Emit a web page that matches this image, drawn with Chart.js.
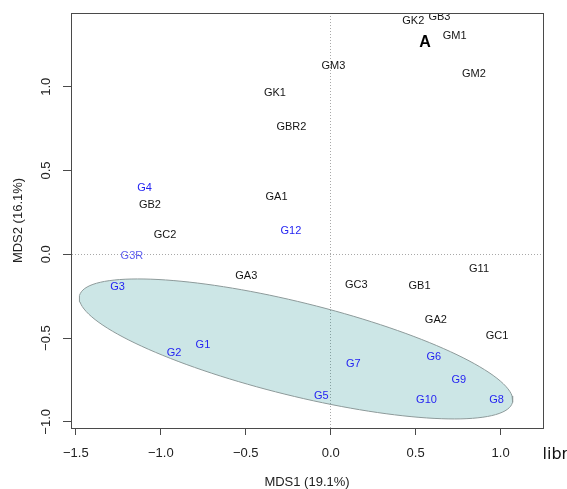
<!DOCTYPE html>
<html><head><meta charset="utf-8">
<script src="https://cdn.jsdelivr.net/npm/chart.js@4/dist/chart.umd.min.js"></script>
<style>html,body{margin:0;padding:0;background:#fff;overflow:hidden}#wrap{width:567px;height:489px}</style>
</head><body><div id="wrap"><canvas id="c" width="567" height="489"></canvas></div>
<script>
// ---- data ----
const blackLabels = ['GK2','GB3','GM1','GM3','GM2','GK1','GBR2','GA1','GB2','GC2','GA3','GC3','GB1','G11','GA2','GC1'];
const blackX = [0.486, 0.640, 0.730, 0.016, 0.843, -0.328, -0.231, -0.319, -1.064, -0.975, -0.497, 0.151, 0.523, 0.873, 0.619, 0.979];
const blackY = [1.394, 1.419, 1.303, 1.127, 1.078, 0.966, 0.763, 0.345, 0.294, 0.118, -0.127, -0.185, -0.191, -0.088, -0.395, -0.490];

const blueLabels = ['G4','G12','G3R','G3','G1','G2','G7','G6','G9','G5','G10','G8'];
const blueX = [-1.096, -0.234, -1.170, -1.255, -0.752, -0.922, 0.133, 0.607, 0.754, -0.055, 0.564, 0.976];
const blueY = [0.396, 0.142, -0.010, -0.198, -0.544, -0.589, -0.655, -0.611, -0.749, -0.843, -0.872, -0.872];

const panelLabels = ['A'];
const panelX = [0.555];
const panelY = [1.261];

const xTicks = [-1.5, -1.0, -0.5, 0.0, 0.5, 1.0];
const xTickLabels = ['\u22121.5', '\u22121.0', '\u22120.5', '0.0', '0.5', '1.0'];
const yTicks = [-1.0, -0.5, 0.0, 0.5, 1.0];
const yTickLabels = ['\u22121.0', '\u22120.5', '0.0', '0.5', '1.0'];
const xTitle = 'MDS1 (19.1%)';
const yTitle = 'MDS2 (16.1%)';
const strayText = 'libr';

// ellipse (data units): centre and two conjugate semi-axis vectors
const ellipseCenter = [-0.204, -0.565];
const ellipseAxisA = [1.274, -0.319];
const ellipseAxisB = [-0.0657, -0.270];

// ---- build ----
const toPts = (xs, ys) => xs.map((x, i) => ({x: x, y: ys[i]}));
const ellipsePts = [];
const N = 144;
for (let k = 0; k <= N; k++) {
  const t = 2 * Math.PI * k / N;
  ellipsePts.push({
    x: ellipseCenter[0] + Math.cos(t) * ellipseAxisA[0] + Math.sin(t) * ellipseAxisB[0],
    y: ellipseCenter[1] + Math.cos(t) * ellipseAxisA[1] + Math.sin(t) * ellipseAxisB[1]
  });
}

const FONT = '"Liberation Sans", Arial, Helvetica, sans-serif';
const BLUE = '#2424f2';

const labelPlugin = {
  id: 'pointLabelText',
  afterDatasetsDraw(chart) {
    const {ctx, chartArea: a} = chart;
    ctx.save();
    ctx.beginPath();
    ctx.rect(a.left, a.top, a.right - a.left, a.bottom - a.top);
    ctx.clip();
    chart.data.datasets.forEach((ds, di) => {
      if (!ds.pointLabels) return;
      const meta = chart.getDatasetMeta(di);
      ctx.font = ds.labelFont;
      ctx.textAlign = 'center';
      ctx.textBaseline = 'middle';
      meta.data.forEach((el, i) => {
        ctx.fillStyle = typeof ds.labelColor === 'function' ? ds.labelColor(ds.pointLabels[i]) : ds.labelColor;
        ctx.fillText(ds.pointLabels[i], el.x, el.y);
      });
    });
    ctx.restore();
  },
  afterDraw(chart) {
    const {ctx, chartArea: a} = chart;
    ctx.save();
    ctx.strokeStyle = '#4a4a4a';
    ctx.lineWidth = 1;
    ctx.strokeRect(Math.round(a.left) + 0.5, Math.round(a.top) + 0.5,
                   Math.round(a.right) - Math.round(a.left), Math.round(a.bottom) - Math.round(a.top));
    ctx.fillStyle = '#111';
    ctx.font = '16px "DejaVu Sans", sans-serif';
    ctx.textAlign = 'left';
    ctx.textBaseline = 'alphabetic';
    ctx.fillText(strayText, a.right - 0.5, 459);
    ctx.restore();
  }
};

const zeroGrid = c => (c.tick && c.tick.value === 0) ? '#a8a8a8' : 'rgba(0,0,0,0)';

new Chart(document.getElementById('c'), {
  type: 'scatter',
  data: {
    datasets: [
      {
        label: 'ellipse', data: ellipsePts, showLine: true, fill: 'shape',
        backgroundColor: 'rgba(0,128,128,0.2)', borderColor: '#8d9a9a', borderWidth: 1,
        pointRadius: 0, pointHoverRadius: 0, tension: 0
      },
      {
        label: 'black', data: toPts(blackX, blackY), pointRadius: 0, pointHoverRadius: 0,
        pointLabels: blackLabels, labelFont: '11px ' + FONT, labelColor: '#141414'
      },
      {
        label: 'blue', data: toPts(blueX, blueY), pointRadius: 0, pointHoverRadius: 0,
        pointLabels: blueLabels, labelFont: '11px ' + FONT,
        labelColor: l => l === 'G3R' ? '#5c5cee' : BLUE
      },
      {
        label: 'panel', data: toPts(panelX, panelY), pointRadius: 0, pointHoverRadius: 0,
        pointLabels: panelLabels, labelFont: 'bold 16px ' + FONT, labelColor: '#000'
      }
    ]
  },
  options: {
    responsive: false,
    animation: false,
    devicePixelRatio: 1,
    layout: {padding: {top: 13, right: 24, bottom: 0, left: 0}},
    plugins: {legend: {display: false}, tooltip: {enabled: false}},
    scales: {
      x: {
        type: 'linear', position: 'bottom', min: -1.5285, max: 1.2496,
        afterBuildTicks: s => { s.ticks = xTicks.map(v => ({value: v})); },
        ticks: {
          callback: v => xTickLabels[xTicks.indexOf(v)],
          font: {family: FONT, size: 13}, color: '#222', padding: 11,
          maxRotation: 0, minRotation: 0, autoSkip: false
        },
        grid: {color: zeroGrid, lineWidth: 1, drawOnChartArea: true, drawTicks: true, tickLength: 7, tickColor: '#4a4a4a', tickWidth: 1},
        border: {display: true, color: '#4a4a4a', width: 1, dash: [1, 2]},
        title: {display: true, text: xTitle, font: {family: FONT, size: 13}, color: '#222', padding: {top: 2.3, bottom: -1.5}}
      },
      y: {
        type: 'linear', position: 'left', min: -1.0370, max: 1.4406,
        afterBuildTicks: s => { s.ticks = yTicks.map(v => ({value: v})); },
        ticks: {
          callback: v => yTickLabels[yTicks.indexOf(v)],
          font: {family: FONT, size: 13}, color: '#222', padding: 4.2,
          minRotation: 90, maxRotation: 90, crossAlign: 'center', autoSkip: false
        },
        grid: {color: zeroGrid, lineWidth: 1, drawOnChartArea: true, drawTicks: true, tickLength: 8, tickColor: '#4a4a4a', tickWidth: 1},
        border: {display: true, color: '#4a4a4a', width: 1, dash: [1, 2]},
        title: {display: true, text: yTitle, font: {family: FONT, size: 13}, color: '#222', padding: {top: 10.2, bottom: 13.2}}
      }
    }
  },
  plugins: [labelPlugin]
});
</script>
</body></html>
